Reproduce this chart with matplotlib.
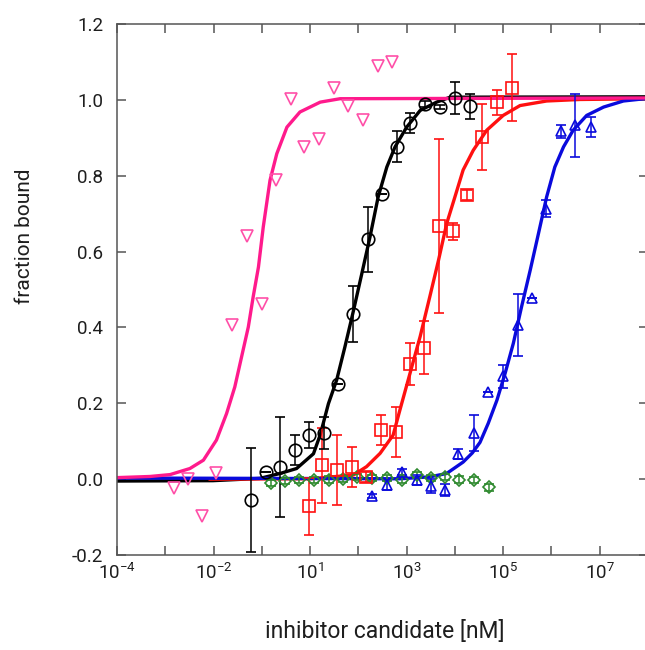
"""Fraction bound vs inhibitor concentration, dose-response panel."""
import numpy as np
import matplotlib

matplotlib.use("Agg")
import matplotlib.pyplot as plt
from matplotlib.ticker import FixedLocator, FixedFormatter, NullLocator

plt.rcParams["font.family"] = ["Roboto", "DejaVu Sans"]
plt.rcParams["mathtext.fontset"] = "custom"
plt.rcParams["mathtext.rm"] = "Roboto"
plt.rcParams["mathtext.it"] = "Roboto"

# ---- data (x given as log10 of the axis value) ----
pink_logx = [-2.82, -2.52, -2.23, -1.94, -1.61, -1.31, -1.00, -0.71, -0.40, -0.12,
             0.18, 0.50, 0.79, 1.10, 1.41, 1.69]
pink_y = [-0.023, 0.001, -0.097, 0.017, 0.406, 0.640, 0.463, 0.788, 1.001, 0.877,
          0.897, 1.030, 0.985, 0.948, 1.090, 1.099]

black_logx = [-1.22, -0.92, -0.62, -0.31, -0.02, 0.28, 0.58, 0.88, 1.19, 1.49,
              1.81, 2.07, 2.38, 2.69, 3.00, 3.31]
black_y = [-0.055, 0.020, 0.031, 0.076, 0.116, 0.122, 0.250, 0.436, 0.632, 0.751,
           0.877, 0.939, 0.990, 0.981, 1.005, 0.983]
black_err = [0.137, 0.0, 0.132, 0.040, 0.034, 0.042, 0.0, 0.074, 0.085, 0.0,
             0.042, 0.026, 0.008, 0.006, 0.042, 0.033]

red_logx = [-0.02, 0.24, 0.55, 0.86, 1.15, 1.47, 1.77, 2.08, 2.37, 2.67,
            2.96, 3.26, 3.57, 3.88, 4.18]
red_y = [-0.071, 0.037, 0.024, 0.033, 0.006, 0.129, 0.125, 0.303, 0.347, 0.667,
         0.653, 0.750, 0.902, 0.994, 1.032]
red_err = [0.075, 0.099, 0.093, 0.053, 0.013, 0.040, 0.066, 0.055, 0.071, 0.229,
           0.022, 0.013, 0.087, 0.033, 0.089]

blue_logx = [1.28, 1.59, 1.90, 2.21, 2.51, 2.80, 3.07, 3.40, 3.69, 4.00,
             4.31, 4.60, 4.89, 5.19, 5.49, 5.81]
blue_y = [-0.044, -0.016, 0.019, -0.003, -0.018, -0.029, 0.066, 0.122, 0.230, 0.271,
          0.406, 0.478, 0.713, 0.917, 0.933, 0.928]
blue_err = [0.005, 0.013, 0.008, 0.013, 0.018, 0.016, 0.013, 0.047, 0.0, 0.031,
            0.082, 0.0, 0.022, 0.018, 0.083, 0.026]

green_logx = [-0.82, -0.52, -0.22, 0.09, 0.39, 0.68, 0.97, 1.28, 1.59, 1.90,
              2.21, 2.51, 2.80, 3.09, 3.40, 3.71]
green_y = [-0.011, -0.005, -0.003, -0.003, -0.001, 0.001, 0.005, 0.003, 0.003, -0.001,
           0.011, 0.003, 0.006, -0.001, -0.003, -0.022]
green_err = [0.008] * 16

# fitted curves
pink_fit_logx = [-4.0, -3.32, -2.90, -2.49, -2.21, -1.94, -1.73, -1.56, -1.42, -1.28,
                 -1.18, -1.07, -0.97, -0.83, -0.69, -0.48, -0.21, 0.21, 0.62, 7.0]
pink_fit_y = [0.004, 0.007, 0.012, 0.028, 0.050, 0.103, 0.173, 0.243, 0.322, 0.401,
              0.480, 0.559, 0.665, 0.788, 0.858, 0.928, 0.968, 0.994, 1.003, 1.005]

black_fit_logx = [-4.0, -2.01, -1.04, -0.62, -0.28, 0.07, 0.21, 0.38, 0.55, 0.72,
                  0.90, 1.07, 1.24, 1.41, 1.59, 1.76, 2.00, 2.28, 2.62, 2.90, 7.0]
black_fit_y = [-0.005, -0.004, 0.002, 0.015, 0.028, 0.067, 0.117, 0.199, 0.261, 0.348,
               0.445, 0.541, 0.638, 0.744, 0.823, 0.876, 0.928, 0.972, 0.994, 1.007, 1.008]

red_fit_logx = [-2.07, 0.0, 0.90, 1.17, 1.45, 1.72, 1.86, 2.07, 2.28, 2.48, 2.66,
                2.83, 3.00, 3.17, 3.38, 3.66, 4.00, 4.35, 4.90, 5.59, 7.0]
red_fit_y = [0.0, 0.001, 0.011, 0.033, 0.068, 0.116, 0.182, 0.279, 0.376, 0.481, 0.577,
             0.674, 0.744, 0.815, 0.867, 0.920, 0.959, 0.985, 0.997, 1.001, 1.003]

blue_fit_logx = [-4.0, 1.86, 2.48, 2.83, 3.17, 3.36, 3.52, 3.69, 3.87, 4.04, 4.21,
                 4.38, 4.56, 4.73, 4.90, 5.07, 5.25, 5.45, 5.73, 6.08, 6.49, 7.0]
blue_fit_y = [0.003, 0.001, 0.006, 0.015, 0.045, 0.069, 0.097, 0.147, 0.208, 0.279, 0.358,
              0.454, 0.551, 0.647, 0.744, 0.823, 0.876, 0.920, 0.959, 0.981, 0.997, 1.004]

tick_logx = [-4, -3, -2, -1, 0, 1, 2, 3, 4, 5, 6]
tick_labels = ["$10^{-4}$", "", "$10^{-2}$", "", "$10^{1}$", "", "$10^{3}$", "",
               "$10^{5}$", "", "$10^{7}$"]

PINK = "#ff1a8c"
PINK_PT = "#ff4fa8"
RED = "#ff1010"
BLUE = "#0a0adc"
GREEN = "#2f8a2f"
SPINE = "#555555"
TEXT = "#1e1e1e"


def tenpow(values):
    return np.power(10.0, np.asarray(values, dtype=float))


fig = plt.figure(figsize=(6.45, 6.5), dpi=100)
ax = fig.add_axes([117 / 645, 95 / 650, 531 / 645, 531 / 650])
ax.set_xscale("log")

# fit lines
ax.plot(tenpow(black_fit_logx), black_fit_y, color="black", lw=2.4, zorder=2)
ax.plot(tenpow(red_fit_logx), red_fit_y, color=RED, lw=2.4, zorder=2)
ax.plot(tenpow(blue_fit_logx), blue_fit_y, color=BLUE, lw=2.4, zorder=2)
ax.plot(tenpow(pink_fit_logx), pink_fit_y, color=PINK, lw=2.4, zorder=2)

# measured points
err_kw = dict(ls="none", elinewidth=1.1, capsize=3.5, capthick=1.1, mfc="none", mew=1.2, zorder=3)
ax.errorbar(tenpow(green_logx), green_y, yerr=green_err, marker="D", ms=6, color=GREEN, **err_kw)
ax.errorbar(tenpow(blue_logx), blue_y, yerr=blue_err, marker="^", ms=7.5, color=BLUE, **err_kw)
ax.errorbar(tenpow(red_logx), red_y, yerr=red_err, marker="s", ms=8.5, color=RED, **err_kw)
ax.errorbar(tenpow(black_logx), black_y, yerr=black_err, marker="o", ms=9, color="black", **err_kw)
ax.plot(tenpow(pink_logx), pink_y, ls="none", marker="v", ms=8, mfc="none", mew=1.2,
        color=PINK_PT, zorder=3)

ax.set_xlim(1e-4, 1e7)
ax.set_ylim(-0.2, 1.2)
ax.set_yticks([-0.2, 0.0, 0.2, 0.4, 0.6, 0.8, 1.0, 1.2])
ax.set_yticklabels(["-0.2", "0.0", "0.2", "0.4", "0.6", "0.8", "1.0", "1.2"])
ax.xaxis.set_major_locator(FixedLocator(tenpow(tick_logx)))
ax.xaxis.set_major_formatter(FixedFormatter(tick_labels))
ax.xaxis.set_minor_locator(NullLocator())

ax.tick_params(axis="both", which="major", direction="in", length=6.5, width=1.1,
               color=SPINE, labelsize=13.5, labelcolor=TEXT,
               top=True, right=True)
ax.tick_params(axis="y", pad=10)
ax.tick_params(axis="x", pad=6)
for spine in ax.spines.values():
    spine.set_color(SPINE)
    spine.set_linewidth(1.1)

ax.set_xlabel("inhibitor candidate [nM]", fontsize=16.5, color=TEXT)
ax.set_ylabel("fraction bound", fontsize=15, color=TEXT)
ax.xaxis.set_label_coords((385 - 117) / 531, (555 - 620) / 531)
ax.yaxis.set_label_coords((34 - 117) / 531, (555 - 236) / 531)

fig.savefig("out.png", dpi=100)
